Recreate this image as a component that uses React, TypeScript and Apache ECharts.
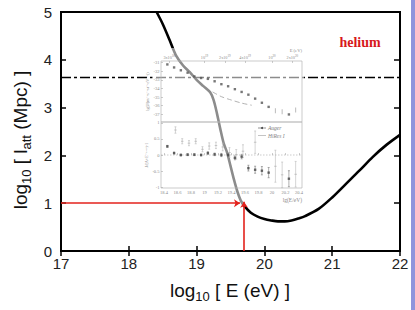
import React, { useEffect, useRef } from 'react';
import * as echarts from 'echarts';

// Main curve: attenuation length of helium vs energy
const energy = [18.41, 18.5, 18.6, 18.7, 18.8, 18.9, 19.0, 19.1, 19.2, 19.25, 19.3, 19.35, 19.4, 19.45, 19.5, 19.55, 19.6, 19.65, 19.7, 19.8, 19.9, 20.0, 20.1, 20.2, 20.3, 20.4, 20.5, 20.6, 20.8, 21.0, 21.2, 21.4, 21.6, 21.8, 22.0];
const attLen = [5.0, 4.75, 4.42, 4.08, 3.88, 3.74, 3.58, 3.45, 3.32, 3.16, 2.88, 2.55, 2.25, 2.06, 1.78, 1.5, 1.25, 1.06, 0.95, 0.8, 0.72, 0.67, 0.64, 0.62, 0.62, 0.64, 0.68, 0.73, 0.88, 1.12, 1.4, 1.68, 1.97, 2.22, 2.43];
const dashDotLevel = 3.63;
const arrowE = [17, 19.64];
const arrowVertE = 19.7;
const arrowLevel = 1;

// Inset: spectrum (top) and residuals (bottom)
const augerE = [18.45, 18.55, 18.65, 18.75, 18.85, 18.95, 19.05, 19.15, 19.25, 19.35, 19.45, 19.55, 19.65, 19.75, 19.85, 19.95, 20.25];
const augerLgJ = [-31.2, -31.55, -31.88, -32.16, -32.6, -32.78, -32.88, -33.16, -33.5, -33.74, -34.08, -34.4, -34.72, -35.18, -35.66, -36.14, -37.02];
const augerDev = [0.27, 0.06, 0.0, 0.01, 0.01, 0.0, 0.06, 0.02, 0.0, 0.0, -0.09, -0.05, -0.41, -0.46, -0.49, -0.55, -0.74];
const augerErr = [0.03, 0.03, 0.03, 0.03, 0.03, 0.03, 0.04, 0.04, 0.05, 0.05, 0.06, 0.07, 0.09, 0.11, 0.13, 0.16, 0.25];
const hiresTopE = [20.05, 20.15, 20.35];
const hiresTopLgJ = [-36.6, -36.7, -36.5];
const hiresE = [18.57, 18.67, 18.77, 18.87, 18.97, 19.07, 19.17, 19.27, 19.37, 19.47, 19.57, 19.75, 20.05, 20.15, 20.35];
const hiresDev = [0.78, 0.43, 0.37, 0.43, 0.18, 0.28, 0.3, 0.25, 0.08, 0.02, 0.12, 0.4, -0.35, -0.62, -0.6];
const hiresErr = [0.1, 0.08, 0.08, 0.08, 0.08, 0.1, 0.1, 0.12, 0.15, 0.15, 0.2, 0.35, 0.5, 0.4, 0.4];
const modelE = [19.12, 19.25, 19.4, 19.55, 19.7];
const modelLgJ = [-34.4, -34.95, -35.35, -35.7, -35.95];

const insetTopPos = [18.477, 19, 19.301, 19.602, 20, 20.301];
const insetTopLabels = ['3x10{s|18}', '10{s|19}', '2x10{s|19}', '4x10{s|19}', '10{s|20}', '2x10{s|20}'];
const insetBottomTicks = [18.4, 18.6, 18.8, 19, 19.2, 19.4, 19.6, 19.8, 20, 20.2, 20.4];
const insetTopY = [-37, -36, -35, -34, -33, -32, -31];
const insetBottomY = [-1, -0.5, 0, 0.5, 1];

const SANS = '"Liberation Sans", Arial, sans-serif';
const SERIF = '"Liberation Serif", "DejaVu Serif", serif';
const INSET_GRAY = '#8a8a8a';

function errorBars(color: string) {
  return (params: any, api: any) => {
    const x = api.value(0);
    const a = api.coord([x, api.value(1)]);
    const b = api.coord([x, api.value(2)]);
    const st = { stroke: color, lineWidth: 0.6 };
    return {
      type: 'group',
      children: [
        { type: 'line', shape: { x1: a[0], y1: a[1], x2: b[0], y2: b[1] }, style: st },
        { type: 'line', shape: { x1: a[0] - 1, y1: a[1], x2: a[0] + 1, y2: a[1] }, style: st },
        { type: 'line', shape: { x1: b[0] - 1, y1: b[1], x2: b[0] + 1, y2: b[1] }, style: st },
      ],
    };
  };
}

export default function App() {
  const ref = useRef<HTMLDivElement>(null);
  useEffect(() => {
    const chart = echarts.init(ref.current!, null, { renderer: 'svg' });
    const insetMin = 18.356;
    const insetMax = 20.444;
    const insetLabel = { fontSize: 4.5, color: INSET_GRAY, fontFamily: SERIF, margin: 1.5 };
    const insetTick = { inside: true, length: 2, lineStyle: { color: '#aaa', width: 0.6 } };
    const option: any = {
      animation: false,
      grid: [
        { left: 61, top: 12, width: 339, height: 239, show: true, borderColor: '#000', borderWidth: 2, z: 1 },
        { left: 161, top: 61, width: 141, height: 61, show: true, borderColor: '#b4b4b4', borderWidth: 0.7, z: 6 },
        { left: 161, top: 122, width: 141, height: 66, show: true, borderColor: '#b4b4b4', borderWidth: 0.7, z: 6 },
      ],
      xAxis: [
        {
          type: 'value', gridIndex: 0, position: 'bottom', min: 17, max: 22, interval: 1,
          axisLine: { show: false }, splitLine: { show: false },
          axisTick: { inside: true, length: 5, lineStyle: { color: '#000', width: 1.5 } },
          axisLabel: { color: '#222', fontSize: 15, fontFamily: SANS, margin: 5 },
        },
        {
          type: 'value', gridIndex: 0, position: 'top', min: 17, max: 22, interval: 1,
          axisLine: { show: false }, splitLine: { show: false },
          axisTick: { inside: true, length: 5, lineStyle: { color: '#000', width: 1.5 } },
          axisLabel: { show: false },
        },
        {
          type: 'value', gridIndex: 1, position: 'top', min: insetMin, max: insetMax, z: 7,
          axisLine: { show: false }, splitLine: { show: false },
          axisTick: { ...insetTick, customValues: insetTopPos },
          axisLabel: {
            ...insetLabel,
            fontSize: 4.2,
            margin: 1,
            customValues: insetTopPos,
            formatter: (v: number) => {
              const i = insetTopPos.findIndex((p) => Math.abs(p - v) < 1e-4);
              return i >= 0 ? insetTopLabels[i] : '';
            },
            rich: { s: { fontSize: 3.2, color: INSET_GRAY, fontFamily: SERIF, padding: [0, 0, 3, 0] } },
          },
        },
        {
          type: 'value', gridIndex: 2, position: 'bottom', min: insetMin, max: insetMax, z: 7,
          axisLine: { show: false }, splitLine: { show: false },
          axisTick: { ...insetTick, customValues: insetBottomTicks },
          axisLabel: { ...insetLabel, customValues: insetBottomTicks, formatter: (v: number) => String(Math.round(v * 10) / 10) },
        },
      ],
      yAxis: [
        {
          type: 'value', gridIndex: 0, position: 'left', min: 0, max: 5, interval: 1,
          axisLine: { show: false }, splitLine: { show: false },
          axisTick: { inside: true, length: 5, lineStyle: { color: '#000', width: 1.5 } },
          axisLabel: { color: '#222', fontSize: 15, fontFamily: SANS, margin: 9 },
        },
        {
          type: 'value', gridIndex: 0, position: 'right', min: 0, max: 5, interval: 1,
          axisLine: { show: false }, splitLine: { show: false },
          axisTick: { inside: true, length: 6, lineStyle: { color: '#000', width: 1.5 } },
          axisLabel: { show: false },
        },
        {
          type: 'value', gridIndex: 1, min: -37.9, max: -30.8, z: 7,
          axisLine: { show: false }, splitLine: { show: false },
          axisTick: { ...insetTick, customValues: insetTopY },
          axisLabel: { ...insetLabel, customValues: insetTopY },
          name: 'lg(J/(m⁻²s⁻¹sr⁻¹eV⁻¹))', nameLocation: 'middle', nameGap: 10,
          nameTextStyle: { fontSize: 4.2, color: INSET_GRAY, fontFamily: SERIF },
        },
        {
          type: 'value', gridIndex: 2, min: -1.03, max: 1.03, z: 7,
          axisLine: { show: false }, splitLine: { show: false },
          axisTick: { ...insetTick, customValues: insetBottomY },
          axisLabel: { ...insetLabel, customValues: insetBottomY },
          name: 'J/(A×E⁻²·⁶⁹)-1', nameLocation: 'middle', nameGap: 10,
          nameTextStyle: { fontSize: 4.2, color: INSET_GRAY, fontFamily: SERIF },
        },
      ],
      series: [
        {
          type: 'line', xAxisIndex: 0, yAxisIndex: 0, z: 2, silent: true,
          data: energy.map((e, i) => [e, attLen[i]]), smooth: 0.3, symbol: 'none',
          lineStyle: { color: '#000', width: 2.6 },
        },
        {
          type: 'line', xAxisIndex: 0, yAxisIndex: 0, z: 2, silent: true,
          data: [[17, dashDotLevel], [22, dashDotLevel]], symbol: 'none',
          lineStyle: { color: '#000', width: 1.6, type: [10, 3, 3, 3] },
        },
        {
          type: 'lines', coordinateSystem: 'cartesian2d', xAxisIndex: 0, yAxisIndex: 0, z: 12, silent: true,
          symbol: ['none', 'arrow'], symbolSize: 6,
          lineStyle: { color: '#e3221c', width: 1.6, opacity: 1 },
          data: [
            { coords: [[arrowE[0], arrowLevel], [arrowE[1], arrowLevel]] },
            { coords: [[arrowVertE, 0], [arrowVertE, arrowLevel + 0.03]] },
          ],
        },
        // inset top
        {
          type: 'line', xAxisIndex: 2, yAxisIndex: 2, z: 8, silent: true,
          data: modelE.map((e, i) => [e, modelLgJ[i]]), smooth: 0.3, symbol: 'none',
          lineStyle: { color: '#a0a0a0', width: 0.8, type: [5, 3] },
        },
        {
          type: 'scatter', xAxisIndex: 2, yAxisIndex: 2, z: 8, silent: true,
          data: augerE.map((e, i) => [e, augerLgJ[i]]), symbol: 'rect', symbolSize: 2.4,
          itemStyle: { color: '#555' },
        },
        {
          type: 'scatter', xAxisIndex: 2, yAxisIndex: 2, z: 8, silent: true,
          data: hiresTopE.map((e, i) => [e, hiresTopLgJ[i]]), symbol: 'rect', symbolSize: [1, 5],
          itemStyle: { color: '#aaa' },
        },
        // inset bottom
        {
          type: 'line', xAxisIndex: 3, yAxisIndex: 3, z: 8, silent: true,
          data: [[insetMin, 0], [insetMax, 0]], symbol: 'none',
          lineStyle: { color: '#aaa', width: 0.6, type: [1.5, 1.5] },
        },
        {
          type: 'custom', xAxisIndex: 3, yAxisIndex: 3, z: 8, silent: true,
          renderItem: errorBars('#b8b8b8'), encode: { x: 0, y: [1, 2] },
          data: hiresE.map((e, i) => [e, hiresDev[i] - hiresErr[i], hiresDev[i] + hiresErr[i]]),
        },
        {
          type: 'custom', xAxisIndex: 3, yAxisIndex: 3, z: 8, silent: true,
          renderItem: errorBars('#777'), encode: { x: 0, y: [1, 2] },
          data: augerE.map((e, i) => [e, augerDev[i] - augerErr[i], augerDev[i] + augerErr[i]]),
        },
        {
          type: 'scatter', xAxisIndex: 3, yAxisIndex: 3, z: 8, silent: true,
          data: hiresE.map((e, i) => [e, hiresDev[i]]), symbol: 'rect', symbolSize: [2.5, 0.8],
          itemStyle: { color: '#aaa' },
        },
        {
          type: 'scatter', xAxisIndex: 3, yAxisIndex: 3, z: 8, silent: true,
          data: augerE.map((e, i) => [e, augerDev[i]]), symbol: 'rect', symbolSize: 2.4,
          itemStyle: { color: '#444' },
        },
      ],
      graphic: [
        { type: 'rect', z: 5, silent: true, shape: { x: 152, y: 48, width: 152, height: 158 }, style: { fill: 'rgba(255,255,255,0.55)' } },
        { type: 'rect', z: 20, silent: true, shape: { x: 411, y: 0, width: 4, height: 310 }, style: { fill: '#9094dc' } },
        {
          type: 'text', z: 20, x: 360, y: 42, silent: true,
          style: { text: 'helium', fill: '#d7191c', font: 'bold 14px "Liberation Serif", serif', align: 'center', verticalAlign: 'middle' },
        },
        {
          type: 'text', z: 20, x: 230, y: 290, silent: true,
          style: {
            text: 'log{sub|10} [ E (eV) ]', fill: '#111', font: '19px "Liberation Sans", Arial, sans-serif',
            align: 'center', verticalAlign: 'middle',
            rich: { sub: { fontSize: 13, fontFamily: SANS, fill: '#111', padding: [12, 0, 0, 0] } },
          },
        },
        {
          type: 'text', z: 20, x: 20, y: 140, rotation: Math.PI / 2, silent: true,
          style: {
            text: 'log{sub|10} [ l{sub|att} (Mpc) ]', fill: '#111', font: '19px "Liberation Sans", Arial, sans-serif',
            align: 'center', verticalAlign: 'middle',
            rich: { sub: { fontSize: 13, fontFamily: SANS, fill: '#111', padding: [12, 0, 0, 0] } },
          },
        },
        {
          type: 'text', z: 20, x: 302, y: 50.5, silent: true,
          style: { text: 'E (eV)', fill: INSET_GRAY, font: '4.6px "Liberation Serif", serif', align: 'right', verticalAlign: 'middle' },
        },
        {
          type: 'text', z: 20, x: 302, y: 200, silent: true,
          style: { text: 'lg(E/eV)', fill: INSET_GRAY, font: '5.5px "Liberation Serif", serif', align: 'right', verticalAlign: 'middle' },
        },
        { type: 'line', z: 20, silent: true, shape: { x1: 258, y1: 128, x2: 266, y2: 128 }, style: { stroke: '#666', lineWidth: 0.7 } },
        { type: 'circle', z: 20, silent: true, shape: { cx: 262, cy: 128, r: 1 }, style: { fill: '#444' } },
        {
          type: 'text', z: 20, x: 268, y: 128, silent: true,
          style: { text: 'Auger', fill: '#777', font: 'italic 5.5px "Liberation Serif", serif', align: 'left', verticalAlign: 'middle' },
        },
        { type: 'line', z: 20, silent: true, shape: { x1: 258, y1: 135.5, x2: 266, y2: 135.5 }, style: { stroke: '#aaa', lineWidth: 0.7 } },
        {
          type: 'text', z: 20, x: 268, y: 135.5, silent: true,
          style: { text: 'HiRes I', fill: '#888', font: 'italic 5.5px "Liberation Serif", serif', align: 'left', verticalAlign: 'middle' },
        },
      ],
    };
    chart.setOption(option);
    return () => chart.dispose();
  }, []);
  return <div ref={ref} style={{ position: 'fixed', left: 0, top: 0, width: 415, height: 310, background: '#fff' }} />;
}
